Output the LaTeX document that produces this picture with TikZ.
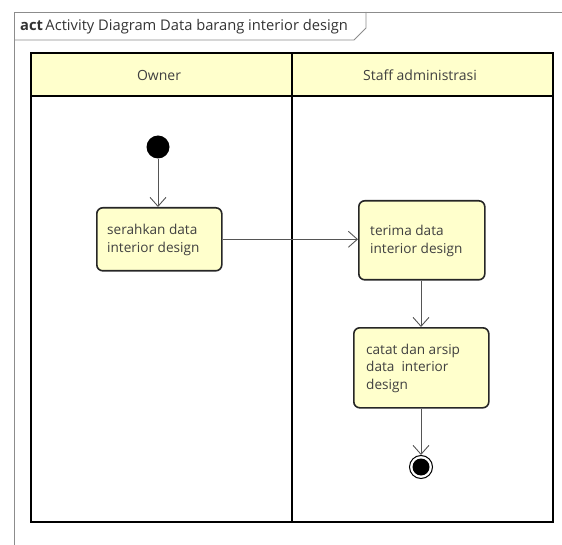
\documentclass[tikz,border=0pt]{standalone}
\usepackage{fontspec}
\setmainfont{Open Sans}
\usetikzlibrary{arrows.meta}
\definecolor{lanefill}{HTML}{FFFFCC}
\definecolor{txt}{HTML}{404040}
\definecolor{flowline}{HTML}{555555}
\begin{document}
\begin{tikzpicture}[x=1pt,y=-1pt,
  action/.style={draw=black!85, line width=1.6pt, fill=lanefill, rounded corners=6pt,
    anchor=north west, inner sep=0pt},
  label/.style={text=txt, font=\fontsize{13.6}{17.5}\selectfont, align=left, inner sep=0pt},
  flow/.style={draw=flowline, line width=0.9pt, -{Straight Barb[length=9pt,width=16pt,line width=0.9pt]}},
  lanehead/.style={text=txt, font=\fontsize{14}{16}\selectfont}]
\useasboundingbox (0,0) rectangle (562,545);

% diagram frame with name tab
\draw[black!45, line width=0.9pt] (14,545) -- (14,12) -- (562,12);
\draw[black!45, line width=0.8pt] (14,40) -- (354,40) -- (366,28) -- (366,12);
\node[anchor=west, text=black!80, font=\fontsize{14.7}{16}\selectfont, inner sep=0pt] (title) at (20,26.5)
  {\textbf{act}\,Activity Diagram Data barang interior design};

% swimlanes
\fill[lanefill] (31,53) rectangle (553,96);
\draw[line width=1.6pt] (31,53) rectangle (553,522);
\draw[line width=1.6pt] (31,96) -- (553,96);
\draw[line width=1.6pt] (292,53) -- (292,522);
\node[lanehead] (owner) at (159,75) {Owner};
\node[lanehead] (staff) at (420,75) {Staff administrasi};

% start node
\node[circle, fill=black, minimum size=23pt, inner sep=0pt] (start) at (158,147) {};

% actions
\node[action, minimum width=125pt, minimum height=63pt] (serah) at (96,207) {};
\node[label, anchor=west] (serahtxt) at (107,240) {serahkan data\\interior design};

\node[action, minimum width=126pt, minimum height=79pt] (terima) at (358,200) {};
\node[label, anchor=west] (terimatxt) at (370,241) {terima data\\interior design};

\node[action, minimum width=135pt, minimum height=80pt] (catat) at (353,327) {};
\node[label, anchor=west] (catattxt) at (366,368) {catat dan arsip\\data\ \ interior\\design};

% final node
\node[circle, draw=black, line width=1pt, fill=white, minimum size=23pt, inner sep=0pt] (final) at (421,467) {};
\fill[black] (final.center) circle (8.5pt);

% control flows
\draw[flow] (start) -- (serah.north -| start);
\draw[flow] (serah.east) -- (terima.west |- serah.east);
\draw[flow] (terima.south -| final) -- (catat.north -| final);
\draw[flow] (catat.south -| final) -- (final.north);
\end{tikzpicture}
\end{document}
